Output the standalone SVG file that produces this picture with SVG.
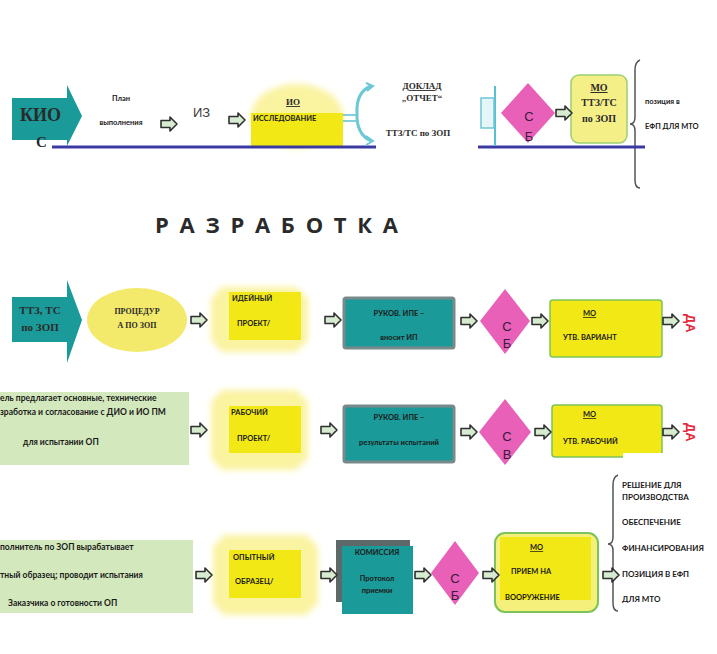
<svg xmlns="http://www.w3.org/2000/svg" width="717" height="654" viewBox="0 0 717 654">
<style>
.lbl{font-family:Lato,"Open Sans","Liberation Sans",sans-serif;font-weight:700;font-size:7.5px;fill:#1a1a1a}
.big{font-family:Lato,"Open Sans","Liberation Sans",sans-serif;font-weight:700;font-size:8.5px;fill:#1a1a1a}
.side{font-family:Lato,"Open Sans","Liberation Sans",sans-serif;font-weight:700;font-size:8px;fill:#1a1a1a}
.ser{font-family:"Liberation Serif","DejaVu Serif",serif;font-weight:700;fill:#2a2a2a}
.teal{fill:#1a9a98}
.tealbox{fill:#1a9a98;stroke:#7a8a8a;stroke-width:3}
.dia{fill:#e860b8}
.yel{fill:#f2e816}
.green{fill:#d3e8bd}
.glow{fill:#faf3a0;filter:url(#blur)}
.brace{fill:none;stroke:#555;stroke-width:1.5}
.sb{font-family:"Liberation Sans","DejaVu Sans",sans-serif;font-size:13px;fill:#3a1a3a}
.da{font-family:"Liberation Sans",sans-serif;font-weight:700;font-size:13px;fill:#e8283a}
</style>
<defs>
<filter id="blur" x="-20%" y="-20%" width="140%" height="140%"><feGaussianBlur stdDeviation="3"/></filter>
<path id="ha" d="M0,3.5 H9 V0 L16,7 L9,14 V10.5 H0 Z" fill="#d6ebcf" stroke="#2f2f2f" stroke-width="1.6" stroke-linejoin="round"/>
</defs>
<rect width="717" height="654" fill="#ffffff"/>

<!-- Row 1 -->
<g id="kio">
<path class="teal" d="M12,98 H67 V85 L82,116 L67,146 V140 H12 Z"/>
<text class="ser" x="20" y="121" font-size="18">КИО</text>
<text class="ser" x="36" y="147" font-size="15">С</text>
</g>
<g id="plan">
<rect x="87" y="92" width="68" height="49" fill="#ffffff"/>
<text class="lbl" x="121" y="101" text-anchor="middle">План</text>
<text class="lbl" x="121" y="125" text-anchor="middle">выполнения</text>
</g>
<g id="iz">
<text x="193" y="117" font-family="'Liberation Sans',sans-serif" font-size="13" fill="#3a3a3a">ИЗ</text>
</g>
<g id="io">
<ellipse class="glow" cx="297" cy="116" rx="46" ry="32"/>
<text class="ser" x="293" y="105" font-size="9" text-anchor="middle" text-decoration="underline">ИО</text>
<rect class="yel" x="251" y="113" width="92" height="35"/>
<text class="lbl" x="253" y="121">ИССЛЕДОВАНИЕ</text>
</g>
<g id="doklad">
<text class="ser" x="422" y="89" font-size="9" text-anchor="middle" text-decoration="underline">ДОКЛАД</text>
<text class="ser" x="422" y="101" font-size="9" text-anchor="middle">„ОТЧЕТ“</text>
<text class="ser" x="418" y="136" font-size="9" text-anchor="middle">ТТЗ/ТС по ЗОП</text>
</g>
<g id="sb1">
<polygon class="dia" points="528,83 555,113 528,143 501,113"/>
<text class="sb" x="529" y="121" text-anchor="middle">С</text>
<text class="sb" x="529" y="141" text-anchor="middle">Б</text>
</g>
<g id="mo1">
<rect x="571" y="75" width="56" height="68" rx="8" fill="#f5ef88" stroke="#9ccf70" stroke-width="1.5"/>
<text class="ser" x="599" y="91" font-size="10" text-anchor="middle" text-decoration="underline">МО</text>
<text class="ser" x="599" y="106" font-size="10" text-anchor="middle">ТТЗ/ТС</text>
<text class="ser" x="599" y="122" font-size="10" text-anchor="middle">по ЗОП</text>
</g>
<g id="pos1">
<path class="brace" d="M640,60 Q635,62 635,70 V117 Q635,124 630,124 Q635,124 635,131 V180 Q635,188 640,188"/>
<text class="lbl" x="645" y="104">позиция в</text>
<text class="lbl" x="645" y="129">ЕФП ДЛЯ МТО</text>
</g>

<g id="title">
<text x="155" y="233" font-family="'Open Sans','Liberation Sans',sans-serif" font-weight="700" font-size="22" fill="#2a2a2a" textLength="243" lengthAdjust="spacing">РАЗРАБОТКА</text>
</g>

<!-- Row 2 -->
<g id="ttz">
<path class="teal" d="M12,297 H67 V280 L82,320 L67,363 V342 H12 Z"/>
<text class="ser" x="40" y="314" font-size="11" text-anchor="middle" fill="#222">ТТЗ, ТС</text>
<text class="ser" x="40" y="331" font-size="11" text-anchor="middle" fill="#222">по ЗОП</text>
</g>
<g id="procedura">
<ellipse cx="137" cy="320" rx="50" ry="32" fill="#f3ea6c"/>
<text class="ser" x="137" y="314" font-size="8" text-anchor="middle">ПРОЦЕДУР</text>
<text class="ser" x="137" y="328" font-size="8" text-anchor="middle">А ПО ЗОП</text>
</g>
<g id="ideyny">
<polygon class="glow" points="222,287 296,287 308,299 308,340 296,352 222,352 211,340 211,299"/>
<rect class="yel" x="229" y="292" width="72" height="48"/>
<text class="lbl" x="232" y="301">ИДЕЙНЫЙ</text>
<text class="lbl" x="237" y="326">ПРОЕКТ/</text>
</g>
<g id="ruk1">
<rect class="tealbox" x="344" y="298" width="110" height="50" rx="2"/>
<text class="lbl" x="399" y="316" text-anchor="middle">РУКОВ. ИПЕ –</text>
<text class="lbl" x="399" y="340" text-anchor="middle">вносит ИП</text>
</g>
<g id="sb2">
<polygon class="dia" points="505,289 530,321 505,354 480,321"/>
<text class="sb" x="507" y="331" text-anchor="middle">С</text>
<text class="sb" x="507" y="348" text-anchor="middle">Б</text>
</g>
<g id="mo2">
<rect class="yel" x="550" y="300" width="112" height="57" rx="3" stroke="#7cc45a" stroke-width="1.5"/>
<text class="lbl" x="583" y="316" text-decoration="underline">МО</text>
<text class="lbl" x="563" y="340">УТВ. ВАРИАНТ</text>
</g>
<g id="da1">
<text class="da" transform="translate(686,314) rotate(90)">ДА</text>
</g>

<!-- Row 3 -->
<g id="green1">
<rect class="green" x="0" y="392" width="189" height="73"/>
<text class="big" x="0" y="401">ель предлагает основные, технические</text>
<text class="big" x="0" y="415">зработка и согласование с ДИО и ИО ПМ</text>
<text class="big" x="23" y="445">для испытании ОП</text>
</g>
<g id="rabochy">
<polygon class="glow" points="222,390 296,390 308,402 308,458 296,470 222,470 211,458 211,402"/>
<rect class="yel" x="229" y="406" width="72" height="47"/>
<text class="lbl" x="231" y="415">РАБОЧИЙ</text>
<text class="lbl" x="237" y="441">ПРОЕКТ/</text>
</g>
<g id="ruk2">
<rect class="tealbox" x="344" y="406" width="110" height="56" rx="2"/>
<text class="lbl" x="399" y="420" text-anchor="middle">РУКОВ. ИПЕ –</text>
<text class="lbl" x="399" y="445" text-anchor="middle">результаты испытаний</text>
</g>
<g id="sb3">
<polygon class="dia" points="505,399 531,432 505,465 479,432"/>
<text class="sb" x="507" y="441" text-anchor="middle">С</text>
<text class="sb" x="507" y="459" text-anchor="middle">В</text>
</g>
<g id="mo3">
<rect class="yel" x="552" y="405" width="110" height="52" rx="3" stroke="#7cc45a" stroke-width="1.5"/>
<rect x="623" y="453" width="94" height="27" fill="#ffffff"/>
<text class="lbl" x="583" y="417" text-decoration="underline">МО</text>
<text class="lbl" x="563" y="444">УТВ. РАБОЧИЙ</text>
</g>
<g id="da2">
<text class="da" transform="translate(686,423) rotate(90)">ДА</text>
</g>

<!-- Row 4 -->
<g id="green2">
<rect class="green" x="0" y="540" width="193" height="73"/>
<text class="big" x="0" y="550">полнитель по ЗОП вырабатывает</text>
<text class="big" x="0" y="578">тный образец; проводит испытания</text>
<text class="big" x="8" y="606">Заказчика о готовности ОП</text>
</g>
<g id="opytny">
<polygon class="glow" points="224,535 306,535 318,547 318,603 306,615 224,615 213,603 213,547"/>
<rect class="yel" x="229" y="550" width="72" height="48"/>
<text class="lbl" x="233" y="560">ОПЫТНЫЙ</text>
<text class="lbl" x="235" y="584">ОБРАЗЕЦ/</text>
</g>
<g id="komissiya">
<rect x="336" y="540" width="74" height="62" fill="#5f6868"/>
<rect class="teal" x="342" y="546" width="71" height="68"/>
<text class="lbl" x="377" y="555" text-anchor="middle">КОМИССИЯ</text>
<text class="lbl" x="377" y="581" text-anchor="middle">Протокол</text>
<text class="lbl" x="377" y="593" text-anchor="middle">приемки</text>
</g>
<g id="sb4">
<polygon class="dia" points="455,541 479,573 455,605 431,573"/>
<text class="sb" x="455" y="583" text-anchor="middle">С</text>
<text class="sb" x="455" y="600" text-anchor="middle">Б</text>
</g>
<g id="mo4">
<rect x="495" y="533" width="103" height="79" rx="10" fill="#f5ef7c" stroke="#7cc45a" stroke-width="2"/>
<rect class="yel" x="500" y="537" width="91" height="63"/>
<text class="lbl" x="530" y="550" text-decoration="underline">МО</text>
<text class="lbl" x="511" y="574">ПРИЕМ НА</text>
<text class="lbl" x="505" y="600">ВООРУЖЕНИЕ</text>
</g>
<g id="decision">
<path class="brace" d="M618,475 Q613,477 613,485 V537 Q613,544 608,544 Q613,544 613,551 V603 Q613,611 618,611"/>
<text class="side" x="622" y="488">РЕШЕНИЕ ДЛЯ</text>
<text class="side" x="622" y="500">ПРОИЗВОДСТВА</text>
<text class="side" x="622" y="525">ОБЕСПЕЧЕНИЕ</text>
<text class="side" x="622" y="551">ФИНАНСИРОВАНИЯ</text>
<text class="side" x="622" y="577">ПОЗИЦИЯ В ЕФП</text>
<text class="side" x="622" y="602">ДЛЯ МТО</text>
</g>

<g id="connectors">
<line x1="52" y1="147" x2="376" y2="147" stroke="#3a3aa2" stroke-width="3"/>
<line x1="478" y1="147" x2="645" y2="147" stroke="#3a3aa2" stroke-width="3"/>
<use href="#ha" x="161" y="117"/>
<use href="#ha" x="229" y="113"/>
<line x1="343" y1="115" x2="358" y2="115" stroke="#58c0d0" stroke-width="1.5"/>
<line x1="343" y1="121" x2="358" y2="121" stroke="#58c0d0" stroke-width="1.5"/>
<path d="M371,86 Q356,92 357,113 Q356,134 371,141" fill="none" stroke="#6cc8d6" stroke-width="3"/>
<path d="M366,83 L373,86 L367,91 M366,136 L373,141 L366,145" fill="none" stroke="#6cc8d6" stroke-width="2"/>
<line x1="495" y1="86" x2="495" y2="146" stroke="#58c0d0" stroke-width="2"/>
<rect x="481" y="98" width="13" height="30" fill="#e6f5f7" stroke="#6cc8d6" stroke-width="1.5"/>
<use href="#ha" x="556" y="106"/>
<use href="#ha" x="191" y="313"/>
<use href="#ha" x="325" y="313"/>
<use href="#ha" x="461" y="314"/>
<use href="#ha" x="532" y="314"/>
<use href="#ha" x="663" y="314"/>
<use href="#ha" x="191" y="423"/>
<use href="#ha" x="321" y="423"/>
<use href="#ha" x="461" y="425"/>
<use href="#ha" x="535" y="425"/>
<use href="#ha" x="663" y="425"/>
<use href="#ha" x="196" y="568"/>
<use href="#ha" x="321" y="568"/>
<use href="#ha" x="415" y="568"/>
<use href="#ha" x="483" y="568"/>
<use href="#ha" x="603" y="568"/>
</g>
</svg>
